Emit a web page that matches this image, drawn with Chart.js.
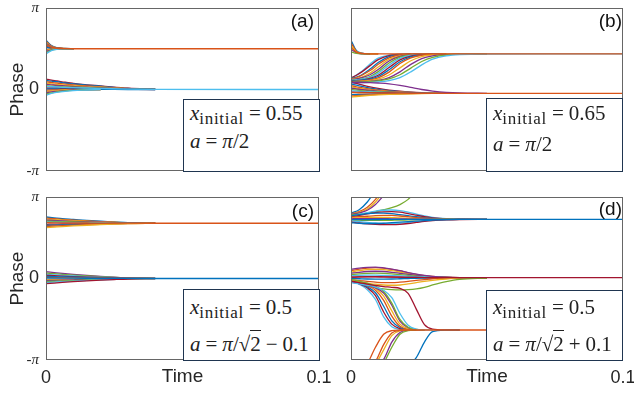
<!DOCTYPE html>
<html>
<head>
<meta charset="utf-8">
<script src="https://cdn.jsdelivr.net/npm/chart.js@4.4.0/dist/chart.umd.min.js"></script>
<style>
  body { margin: 0; width: 634px; height: 395px; background: #fff; position: relative; overflow: hidden; }
  canvas { position: absolute; }
  .tag { position: absolute; font: 19px 'Liberation Sans', Arial, sans-serif; color: #111; line-height: 1; }
  .box { position: absolute; background: #fff; border: 1px solid #1f3550; box-sizing: border-box; font-family: 'Liberation Serif', serif; color: #222; }
  .box div { position: absolute; left: 6px; font-size: 21px; white-space: nowrap; line-height: 1; }
  .box i { font-style: italic; }
  .box sub { font-size: 17px; letter-spacing: 0.7px; vertical-align: -4px; }
  .op { margin: 0 5px; }
  .rt { border-top: 1px solid #222; padding-top: 1px; }
</style>
</head>
<body>
<canvas id="chartA" width="320" height="180" style="left:0;top:0"></canvas>
<canvas id="chartB" width="314" height="180" style="left:320px;top:0"></canvas>
<canvas id="chartC" width="345" height="215" style="left:0;top:180px"></canvas>
<canvas id="chartD" width="314" height="215" style="left:320px;top:180px"></canvas>

<div class="tag" style="right:320px;top:11px">(a)</div>
<div class="tag" style="right:12px;top:11px">(b)</div>
<div class="tag" style="right:320px;top:201px">(c)</div>
<div class="tag" style="right:12px;top:199px">(d)</div>

<div class="box" style="left:183px;top:99px;width:137px;height:73px">
  <div style="top:3px"><i>x</i><sub>initial</sub><span class="op">=</span>0.55</div>
  <div style="top:31px"><i>a</i><span class="op">=</span><i>π</i>/2</div>
</div>
<div class="box" style="left:486px;top:98px;width:137px;height:74px">
  <div style="top:4px"><i>x</i><sub>initial</sub><span class="op">=</span>0.65</div>
  <div style="top:35px"><i>a</i><span class="op">=</span><i>π</i>/2</div>
</div>
<div class="box" style="left:183px;top:289px;width:137px;height:72px">
  <div style="top:7px"><i>x</i><sub>initial</sub><span class="op">=</span>0.5</div>
  <div style="top:44px"><i>a</i><span class="op">=</span><i>π</i>/√<span class="rt">2</span><span class="op">−</span>0.1</div>
</div>
<div class="box" style="left:486px;top:290px;width:137px;height:71px">
  <div style="top:6px"><i>x</i><sub>initial</sub><span class="op">=</span>0.5</div>
  <div style="top:43px"><i>a</i><span class="op">=</span><i>π</i>/√<span class="rt">2</span><span class="op">+</span>0.1</div>
</div>

<script>
const PI = Math.PI;
const timeTicks = [0, 0.1];
const timeTickLabels = ['0', '0.1'];
const phaseTicks = [-PI, 0, PI];
const phaseTickLabels = ['-π', '0', 'π'];

// (a) x_initial = 0.55, a = pi/2
const timeA = [0, 0.002, 0.004, 0.007, 0.01, 0.015, 0.02, 0.03, 0.04, 0.1];
const movingA = [
  [1.90, 1.69, 1.61, 1.58, 1.571],
  [1.86, 1.67, 1.61, 1.58, 1.571],
  [1.82, 1.66, 1.60, 1.578, 1.571],
  [1.78, 1.65, 1.60, 1.577, 1.571],
  [1.74, 1.63, 1.59, 1.576, 1.571],
  [1.70, 1.62, 1.587, 1.575, 1.571],
  [1.66, 1.60, 1.582, 1.574, 1.571],
  [1.62, 1.59, 1.577, 1.573, 1.571],
  [1.54, 1.56, 1.567, 1.570, 1.571],
  [1.50, 1.55, 1.563, 1.569, 1.571],
  [1.46, 1.53, 1.558, 1.568, 1.571],
  [1.42, 1.52, 1.553, 1.566, 1.571],
  [1.38, 1.50, 1.548, 1.565, 1.571],
  [0.40, 0.36, 0.33, 0.28, 0.24, 0.18, 0.14, 0.05, 0.01],
  [0.36, 0.32, 0.30, 0.25, 0.22, 0.17, 0.13, 0.04, 0.01],
  [0.30, 0.27, 0.25, 0.21, 0.18, 0.14, 0.10, 0.04, 0.01],
  [0.25, 0.22, 0.20, 0.17, 0.15, 0.11, 0.09, 0.03, 0.01],
  [0.20, 0.18, 0.16, 0.14, 0.12, 0.09, 0.07, 0.02, 0.005],
  [0.15, 0.13, 0.12, 0.10, 0.09, 0.07, 0.05, 0.02, 0.005],
  [0.10, 0.09, 0.08, 0.07, 0.06, 0.05, 0.03, 0.01, 0],
  [0.06, 0.05, 0.05, 0.04, 0.04, 0.03, 0.02, 0.01, 0],
  [0.02, 0.02, 0.02, 0.01, 0.01, 0.01, 0.01, 0, 0],
  [-0.03, -0.02, -0.015, -0.01, -0.005, 0, 0],
  [-0.08, -0.06, -0.04, -0.02, -0.01, -0.005, 0],
  [-0.13, -0.09, -0.07, -0.04, -0.02, -0.01, 0],
  [-0.18, -0.13, -0.09, -0.05, -0.03, -0.01, 0],
  [-0.22, -0.15, -0.11, -0.07, -0.04, -0.02, 0]
];
const settledA = [
  [1.72, 1.63, 1.59, 1.575, 1.571, 1.571, 1.571, 1.571, 1.571, 1.571],
  [0.12, 0.11, 0.10, 0.08, 0.07, 0.05, 0.04, 0.015, 0.005, 0]
];

// (b) x_initial = 0.65, a = pi/2
const timeB = [0, 0.002, 0.004, 0.007, 0.01, 0.014, 0.018, 0.022, 0.026, 0.03, 0.035, 0.04, 0.05, 0.1];
const movingB = [
  [1.90, 1.50, 1.40, 1.375, 1.37],
  [1.80, 1.47, 1.39, 1.372, 1.37],
  [1.70, 1.45, 1.385, 1.371, 1.37],
  [1.55, 1.41, 1.377, 1.37],
  [1.45, 1.39, 1.373, 1.37],
  [0.42, 0.56, 0.70, 0.98, 1.21, 1.33, 1.36, 1.37],
  [0.45, 0.55, 0.68, 0.92, 1.15, 1.31, 1.355, 1.37],
  [0.43, 0.48, 0.57, 0.79, 1.04, 1.27, 1.34, 1.365, 1.37],
  [0.41, 0.46, 0.55, 0.73, 0.97, 1.22, 1.33, 1.36, 1.37],
  [0.39, 0.43, 0.48, 0.63, 0.87, 1.16, 1.30, 1.35, 1.365, 1.37],
  [0.38, 0.41, 0.46, 0.57, 0.77, 1.10, 1.28, 1.345, 1.365, 1.37],
  [0.36, 0.375, 0.41, 0.50, 0.69, 1.02, 1.25, 1.335, 1.36, 1.37],
  [0.355, 0.37, 0.40, 0.47, 0.62, 0.94, 1.20, 1.32, 1.355, 1.37],
  [0.33, 0.34, 0.365, 0.43, 0.55, 0.845, 1.14, 1.29, 1.345, 1.365, 1.37],
  [0.335, 0.345, 0.36, 0.40, 0.50, 0.76, 1.07, 1.26, 1.335, 1.36, 1.37],
  [0.31, 0.315, 0.33, 0.37, 0.45, 0.67, 1.00, 1.22, 1.32, 1.355, 1.37],
  [0.30, 0.31, 0.32, 0.34, 0.40, 0.56, 0.835, 1.11, 1.27, 1.34, 1.365, 1.37],
  [0.29, 0.29, 0.295, 0.31, 0.35, 0.46, 0.68, 0.97, 1.19, 1.30, 1.35, 1.365, 1.37],
  [0.28, 0.285, 0.29, 0.305, 0.33, 0.41, 0.57, 0.825, 1.08, 1.24, 1.33, 1.36, 1.37],
  [0.26, 0.26, 0.265, 0.275, 0.29, 0.345, 0.46, 0.68, 0.95, 1.17, 1.30, 1.35, 1.368, 1.37],
  [0.30, 0.233, 0.175, 0.099, 0.041, -0.022, -0.067, -0.098, -0.12, -0.134, -0.147],
  [0.22, 0.165, 0.117, 0.055, 0.007, -0.044, -0.081, -0.107, -0.125, -0.136, -0.147],
  [0.15, 0.105, 0.067, 0.016, -0.022, -0.064, -0.094, -0.114, -0.129, -0.138, -0.147],
  [0.10, 0.063, 0.031, -0.011, -0.043, -0.078, -0.103, -0.12, -0.132, -0.14, -0.147],
  [0.05, 0.02, -0.005, -0.039, -0.064, -0.092, -0.112, -0.125, -0.135, -0.141, -0.147],
  [0, -0.022, -0.041, -0.066, -0.085, -0.106, -0.12, -0.131, -0.138, -0.143, -0.147],
  [-0.05, -0.065, -0.077, -0.094, -0.106, -0.12, -0.13, -0.136, -0.141, -0.144, -0.147],
  [-0.10, -0.107, -0.113, -0.121, -0.127, -0.134, -0.139, -0.142, -0.144, -0.146, -0.147],
  [-0.20, -0.192, -0.185, -0.176, -0.169, -0.162, -0.157, -0.153, -0.15, -0.149, -0.147],
  [-0.25, -0.235, -0.221, -0.204, -0.19, -0.176, -0.166, -0.158, -0.153, -0.15, -0.147],
  [-0.29, -0.269, -0.25, -0.226, -0.207, -0.187, -0.173, -0.163, -0.156, -0.151, -0.147],
  [0.26, 0.27, 0.27, 0.265, 0.25, 0.22, 0.16, 0.08, 0.0, -0.06, -0.11, -0.135, -0.147]
];
const settledB = [
  [1.62, 1.44, 1.39, 1.375, 1.371, 1.37, 1.37, 1.37, 1.37, 1.37, 1.37, 1.37, 1.37, 1.37],
  [-0.12, -0.124, -0.128, -0.132, -0.136, -0.14, -0.143, -0.145, -0.146, -0.147, -0.147, -0.147, -0.147, -0.147]
];

// (c) x_initial = 0.5, a = pi/sqrt(2) - 0.1
const timeC = [0, 0.003, 0.006, 0.01, 0.015, 0.02, 0.025, 0.03, 0.04, 0.1];
const movingC = [
  [2.37, 2.34, 2.31, 2.28, 2.24, 2.21, 2.18, 2.15, 2.135],
  [2.33, 2.306, 2.282, 2.254, 2.222, 2.194, 2.17, 2.15, 2.134],
  [2.29, 2.271, 2.252, 2.229, 2.204, 2.181, 2.162, 2.146, 2.133],
  [2.25, 2.236, 2.221, 2.204, 2.185, 2.168, 2.154, 2.142, 2.132],
  [2.21, 2.2, 2.191, 2.18, 2.167, 2.156, 2.146, 2.138, 2.132],
  [2.17, 2.165, 2.16, 2.155, 2.148, 2.143, 2.138, 2.134, 2.131],
  [2.09, 2.095, 2.1, 2.105, 2.112, 2.117, 2.122, 2.126, 2.129],
  [2.05, 2.06, 2.069, 2.08, 2.093, 2.104, 2.114, 2.122, 2.128],
  [2.01, 2.024, 2.039, 2.056, 2.075, 2.092, 2.106, 2.118, 2.128],
  [1.96, 1.98, 2.0, 2.025, 2.052, 2.076, 2.096, 2.113, 2.127],
  [0.26, 0.229, 0.198, 0.161, 0.12, 0.083, 0.052, 0.026, 0.005],
  [0.21, 0.185, 0.16, 0.13, 0.097, 0.067, 0.042, 0.021, 0.004],
  [0.16, 0.141, 0.122, 0.099, 0.074, 0.051, 0.032, 0.016, 0.003],
  [0.12, 0.106, 0.091, 0.074, 0.055, 0.038, 0.024, 0.012, 0.002],
  [0.08, 0.07, 0.061, 0.05, 0.037, 0.026, 0.016, 0.008, 0.002],
  [0.04, 0.035, 0.03, 0.025, 0.018, 0.013, 0.008, 0.004, 0.001],
  [-0.04, -0.035, -0.03, -0.025, -0.018, -0.013, -0.008, -0.004, -0.001],
  [-0.08, -0.07, -0.061, -0.05, -0.037, -0.026, -0.016, -0.008, -0.002],
  [-0.12, -0.106, -0.091, -0.074, -0.055, -0.038, -0.024, -0.012, -0.002],
  [-0.16, -0.141, -0.122, -0.099, -0.074, -0.051, -0.032, -0.016, -0.003],
  [-0.20, -0.176, -0.152, -0.124, -0.092, -0.064, -0.04, -0.02, -0.004]
];
const settledC = [
  [2.15, 2.148, 2.145, 2.142, 2.139, 2.136, 2.134, 2.132, 2.13, 2.13],
  [0.02, 0.018, 0.015, 0.012, 0.009, 0.006, 0.004, 0.002, 0, 0]
];

// (d) x_initial = 0.5, a = pi/sqrt(2) + 0.1
const timeD = [0, 0.003, 0.006, 0.009, 0.012, 0.015, 0.018, 0.021, 0.024, 0.027, 0.03, 0.035, 0.04, 0.05, 0.1];
const movingD = [
  [2.52, 2.65, 2.95, 3.4],
  [2.50, 2.58, 2.75, 3.05, 3.5],
  [2.48, 2.55, 2.68, 2.95, 3.35],
  [2.47, 2.53, 2.63, 2.85, 3.2, 3.6],
  [2.45, 2.48, 2.52, 2.58, 2.65, 2.73, 2.85, 3.05, 3.4],
  [2.40, 2.47, 2.54, 2.60, 2.63, 2.64, 2.62, 2.56, 2.48, 2.41, 2.36, 2.31, 2.29, 2.28],
  [2.38, 2.43, 2.49, 2.54, 2.57, 2.58, 2.56, 2.50, 2.44, 2.38, 2.34, 2.30, 2.285, 2.28],
  [2.42, 2.46, 2.50, 2.52, 2.52, 2.50, 2.46, 2.42, 2.38, 2.35, 2.32, 2.295, 2.284, 2.28],
  [2.36, 2.38, 2.40, 2.42, 2.43, 2.43, 2.41, 2.38, 2.35, 2.33, 2.31, 2.29, 2.283, 2.28],
  [2.33, 2.34, 2.35, 2.36, 2.36, 2.35, 2.34, 2.32, 2.31, 2.30, 2.29, 2.285, 2.281, 2.28],
  [2.30, 2.31, 2.31, 2.31, 2.31, 2.30, 2.30, 2.29, 2.29, 2.285, 2.283, 2.281, 2.28],
  [2.26, 2.25, 2.24, 2.24, 2.24, 2.245, 2.25, 2.26, 2.265, 2.27, 2.275, 2.278, 2.28],
  [2.22, 2.19, 2.16, 2.14, 2.12, 2.12, 2.13, 2.15, 2.18, 2.21, 2.24, 2.265, 2.276, 2.28],
  [2.18, 2.14, 2.11, 2.09, 2.08, 2.08, 2.09, 2.12, 2.16, 2.20, 2.23, 2.26, 2.275, 2.28],
  [2.15, 2.13, 2.12, 2.12, 2.13, 2.15, 2.17, 2.19, 2.21, 2.23, 2.25, 2.27, 2.278, 2.28],
  [0.30, 0.36, 0.40, 0.42, 0.40, 0.35, 0.29, 0.22, 0.16, 0.11, 0.08, 0.05, 0.035, 0.03],
  [0.25, 0.30, 0.34, 0.35, 0.34, 0.30, 0.25, 0.19, 0.14, 0.10, 0.07, 0.045, 0.033, 0.03],
  [0.20, 0.24, 0.27, 0.28, 0.27, 0.24, 0.20, 0.16, 0.12, 0.09, 0.065, 0.043, 0.033, 0.03],
  [0.15, 0.18, 0.20, 0.21, 0.20, 0.18, 0.15, 0.12, 0.095, 0.075, 0.058, 0.04, 0.032, 0.03],
  [0.10, 0.12, 0.13, 0.13, 0.12, 0.11, 0.10, 0.085, 0.07, 0.058, 0.048, 0.037, 0.031, 0.03],
  [0.05, 0.06, 0.065, 0.065, 0.06, 0.055, 0.05, 0.045, 0.04, 0.037, 0.035, 0.032, 0.03],
  [0.0, -0.01, -0.02, -0.025, -0.025, -0.02, -0.01, 0.0, 0.01, 0.015, 0.02, 0.026, 0.029, 0.03],
  [-0.05, -0.08, -0.11, -0.14, -0.16, -0.16, -0.14, -0.11, -0.07, -0.04, -0.01, 0.015, 0.026, 0.03],
  [-0.10, -0.14, -0.18, -0.22, -0.25, -0.26, -0.25, -0.21, -0.16, -0.11, -0.07, -0.02, 0.015, 0.03],
  [0.35, 0.40, 0.43, 0.44, 0.41, 0.36, 0.30, 0.23, 0.17, 0.12, 0.085, 0.052, 0.036, 0.03],
  [-0.12, -0.2, -0.28, -0.35, -0.40, -0.43, -0.44, -0.43, -0.40, -0.34, -0.25, -0.12, -0.03, 0.02],
  [-0.05, -0.22, -0.43, -0.81, -1.48, -1.86, -1.96, -1.98, -1.985],
  [-0.08, -0.20, -0.36, -0.66, -1.29, -1.76, -1.93, -1.975, -1.985],
  [-0.10, -0.20, -0.32, -0.55, -1.07, -1.63, -1.89, -1.965, -1.985],
  [-0.12, -0.19, -0.28, -0.45, -0.84, -1.45, -1.84, -1.95, -1.98, -1.985],
  [-0.06, -0.13, -0.22, -0.38, -0.68, -1.25, -1.76, -1.93, -1.975, -1.985],
  [-0.14, -0.20, -0.26, -0.36, -0.56, -1.03, -1.64, -1.90, -1.97, -1.985],
  [-0.03, -0.10, -0.18, -0.30, -0.50, -0.95, -1.58, -1.88, -1.965, -1.985],
  [-0.16, -0.21, -0.26, -0.33, -0.45, -0.74, -1.35, -1.80, -1.95, -1.98, -1.985],
  [-0.10, -0.16, -0.22, -0.27, -0.31, -0.34, -0.38, -0.57, -1.18, -1.78, -1.95, -1.98, -1.985],
  [-4.1, -4.0, -3.9, -3.8, -3.7, -3.6, -3.48, -3.32, -3.05, -2.45, -2.05, -1.99, -1.985],
  [-4.2, -3.85, -3.3, -2.65, -2.15, -2.01, -1.99, -1.985],
  [-4.0, -3.8, -3.55, -3.3, -2.75, -2.2, -2.02, -1.99, -1.985],
  [-3.9, -3.75, -3.6, -3.4, -3.12, -2.45, -2.08, -2.0, -1.985],
  [-3.9, -3.8, -3.65, -3.48, -3.25, -2.65, -2.15, -2.01, -1.985]
];
const settledD = [
  [2.27, 2.27, 2.272, 2.274, 2.276, 2.278, 2.28, 2.28, 2.28, 2.28, 2.28, 2.28, 2.28, 2.28, 2.28],
  [0.05, 0.06, 0.07, 0.07, 0.065, 0.06, 0.05, 0.045, 0.04, 0.036, 0.033, 0.031, 0.03, 0.03, 0.03],
  [-4.0, -3.75, -3.45, -3.2, -2.55, -2.1, -2.0, -1.985, -1.985, -1.985, -1.985, -1.985, -1.985, -1.985, -1.985]
];

const MATLAB = ['#0072BD', '#D95319', '#EDB120', '#7E2F8E', '#77AC30', '#4DBEEE', '#A2142F'];
const AXIS_COLOR = '#262626';
const SANS = "'Liberation Sans', Arial, sans-serif";

// draws the full box round the plot like matlab "box on"
const framePlugin = {
  id: 'frame',
  afterDatasetsDraw(chart) {
    const a = chart.chartArea, c = chart.ctx;
    c.save();
    c.strokeStyle = '#666';
    c.lineWidth = 1;
    c.strokeRect(a.left + 0.5, a.top + 0.5, a.right - a.left - 1, a.bottom - a.top - 1);
    c.restore();
  }
};

function lineSet(time, vals, color) {
  return {
    data: vals.map((v, i) => ({ x: time[i], y: v })),
    borderColor: color,
    borderWidth: 1.3,
    pointRadius: 0,
    fill: false,
    cubicInterpolationMode: 'monotone'
  };
}

function makePanel(id, time, moving, settled, settledColors, o) {
  const datasets = [];
  moving.forEach((vals, i) => datasets.push(lineSet(time, vals, MATLAB[i % 7])));
  settled.forEach((vals, i) => datasets.push(lineSet(time, vals, settledColors[i])));
  // later lines sit on top, like matlab plot order
  datasets.forEach((d, i) => { d.order = -i; });

  new Chart(document.getElementById(id), {
    type: 'line',
    data: { datasets: datasets },
    options: {
      responsive: false,
      animation: false,
      devicePixelRatio: 1,
      layout: { padding: { top: o.padTop, right: o.padRight, left: 0, bottom: 0 } },
      plugins: { legend: { display: false }, tooltip: { enabled: false } },
      scales: {
        x: {
          type: 'linear', min: 0, max: 0.1,
          grid: { display: false, drawTicks: false },
          border: { display: false },
          afterBuildTicks: s => { s.ticks = timeTicks.map(v => ({ value: v })); },
          afterFit: s => { s.height = o.xHeight; s.paddingLeft = 0; s.paddingRight = 0; },
          ticks: {
            display: o.showX, autoSkip: false, maxRotation: 0, padding: 7,
            color: AXIS_COLOR, font: { family: SANS, size: 18 },
            callback: (v, i) => timeTickLabels[i]
          },
          title: {
            display: o.showX, text: 'Time', color: AXIS_COLOR,
            font: { family: SANS, size: 19 }, padding: { top: 0, bottom: 7 }
          }
        },
        y: {
          min: -PI, max: PI,
          grid: { display: false, drawTicks: false },
          border: { display: false },
          afterBuildTicks: s => { s.ticks = phaseTicks.map(v => ({ value: v })); },
          afterFit: s => { s.width = o.yWidth; s.paddingTop = 0; s.paddingBottom = 0; },
          ticks: {
            display: o.showY, padding: 7, color: AXIS_COLOR,
            font: ctx => (ctx.tick && ctx.tick.value === 0)
              ? { family: SANS, size: 18 }
              : { family: "'Liberation Serif', serif", size: 15, style: 'italic' },
            callback: (v, i) => phaseTickLabels[i]
          },
          title: {
            display: o.showY, text: 'Phase', color: AXIS_COLOR,
            font: { family: SANS, size: 19 }, padding: { top: 6, bottom: 0 }
          }
        }
      }
    },
    plugins: [framePlugin]
  });
}

makePanel('chartA', timeA, movingA, settledA, ['#D95319', '#4DBEEE'],
  { padTop: 8, padRight: 1, xHeight: 9, yWidth: 46, showX: false, showY: true });
makePanel('chartB', timeB, movingB, settledB, ['#D95319', '#D95319'],
  { padTop: 8, padRight: 11, xHeight: 9, yWidth: 31, showX: false, showY: false });
makePanel('chartC', timeC, movingC, settledC, ['#D95319', '#0072BD'],
  { padTop: 17, padRight: 26, xHeight: 35, yWidth: 46, showX: true, showY: true });
makePanel('chartD', timeD, movingD, settledD, ['#0072BD', '#A2142F', '#D95319'],
  { padTop: 17, padRight: 11, xHeight: 35, yWidth: 31, showX: true, showY: false });
</script>
</body>
</html>
